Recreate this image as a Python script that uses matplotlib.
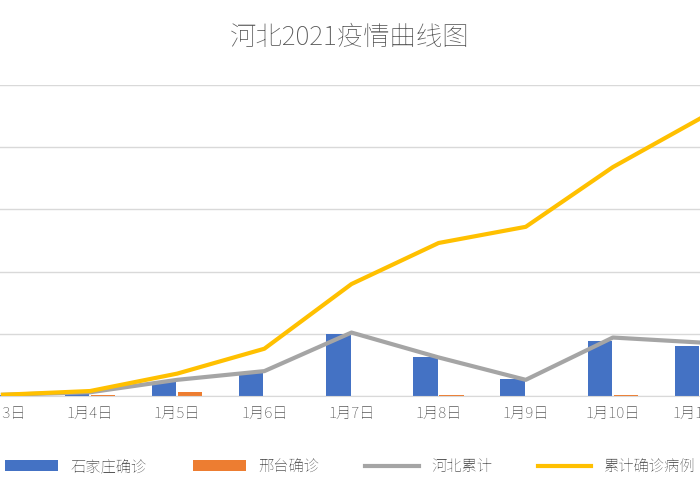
import matplotlib
matplotlib.use("Agg")
import matplotlib.pyplot as plt
from matplotlib import font_manager as fm
import numpy as np

fam = None
for f in fm.findSystemFonts():
    if "NotoSansCJK" in f.replace(" ", "") or "NotoSansSC" in f.replace(" ", ""):
        try:
            fm.fontManager.addfont(f)
            name = fm.FontProperties(fname=f).get_name()
            if fam is None or "SC" in name:
                fam = name
        except Exception:
            pass
plt.rcParams["font.family"] = [fam or "Noto Sans CJK SC", "DejaVu Sans"]

categories = ["1月3日", "1月4日", "1月5日", "1月6日", "1月7日", "1月8日", "1月9日", "1月10日", "1月11日"]
sjz = [1, 2, 11, 19, 50, 31, 14, 44, 40]
xingtai = [0, 1, 3, 0, 0, 1, 0, 1, 0]
hebei = [1, 3, 13, 20, 51, 31, 13, 47, 43]
cumulative = [1, 4, 18, 38, 90, 123, 136, 184, 223]

fig = plt.figure(figsize=(7, 5), dpi=100)
ax = fig.add_axes([0, 0.208, 1, 0.622])
x = np.arange(len(categories))
w = 0.28
b1 = ax.bar(x - 0.15, sjz, w, color="#4472C4", label="石家庄确诊", zorder=2)
b2 = ax.bar(x + 0.15, xingtai, w, color="#ED7D31", label="邢台确诊", zorder=2)
l1, = ax.plot(x, hebei, color="#A5A5A5", lw=3, label="河北累计", zorder=3)
l2, = ax.plot(x, cumulative, color="#FFC000", lw=3, label="累计确诊病例", zorder=3)

ax.set_xlim(-0.034, 7.83)
ax.set_ylim(0, 250)
ax.set_yticks([0, 50, 100, 150, 200, 250])
ax.set_yticklabels([])
ax.tick_params(axis="y", length=0)
ax.yaxis.grid(True, color="#D9D9D9", lw=1, zorder=0)
ax.set_xticks(x)
ax.set_xticklabels(categories, fontsize=11, color="#595959")
ax.tick_params(axis="x", length=0, pad=8)
for s in ["top", "right", "left"]:
    ax.spines[s].set_visible(False)
ax.spines["bottom"].set_color("#D9D9D9")

fig.text(0.5, 0.925, "河北2021疫情曲线图", ha="center", va="center", fontsize=19, color="#595959")
fig.legend([b1, b2, l1, l2], ["石家庄确诊", "邢台确诊", "河北累计", "累计确诊病例"],
           loc="center", bbox_to_anchor=(0.5, 0.066), ncol=4, frameon=False,
           fontsize=11, labelcolor="#595959", columnspacing=3, handlelength=3.5)

fig.savefig("out.png", dpi=100)
